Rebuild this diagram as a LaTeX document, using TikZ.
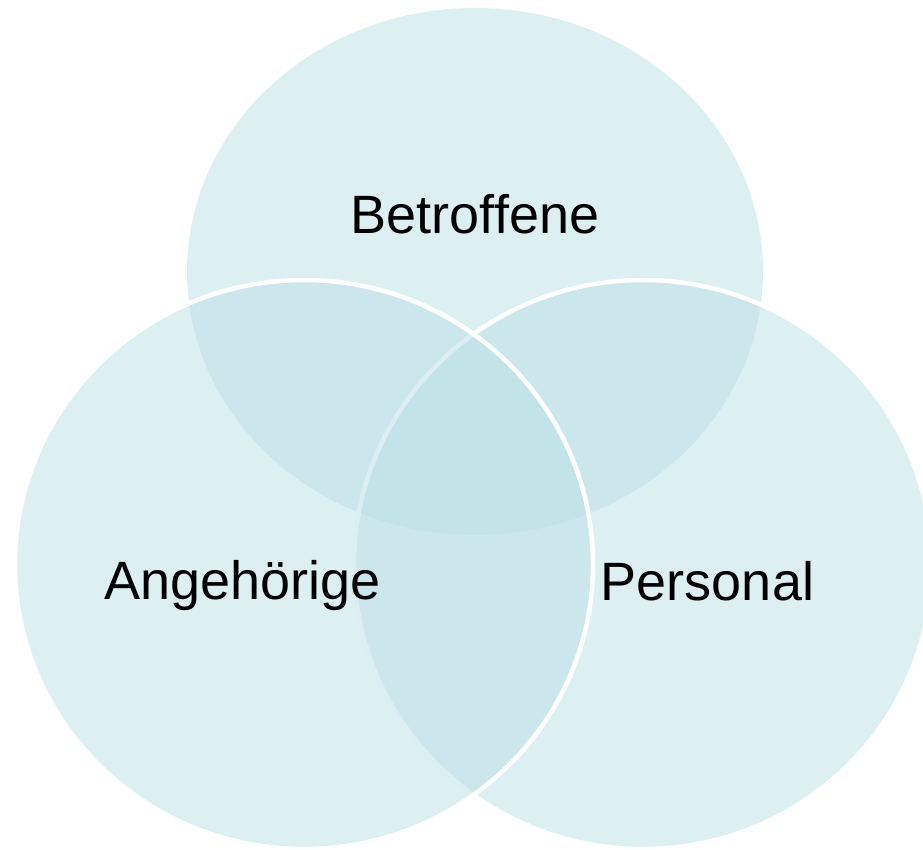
\documentclass[tikz,border=0pt]{standalone}
\usepackage{fontspec}
\setmainfont{Liberation Sans}
\usepackage{xcolor}
\usepackage{tikz}
\definecolor{venn}{RGB}{186,223,228}
\tikzset{
    set/.style={fill=venn, fill opacity=0.5},
    rim/.style={set, draw=white, draw opacity=1, line width=4.5pt},
    setlabel/.style={anchor=base, inner sep=0pt, font=\fontsize{54}{62}\selectfont}
}

\begin{document}
\begin{tikzpicture}[x=1pt, y=-1pt]
            \useasboundingbox (0, 0) rectangle (923, 849);
            \clip (0, 0) rectangle (923, 849);
            \fill[set] (475, 271.5) ellipse [x radius=288, y radius=263.5];
            \filldraw[rim] (643, 564.5) ellipse [x radius=289, y radius=284.5];
            \filldraw[rim] (304, 564.5) ellipse [x radius=289, y radius=284.5];
            \node[setlabel] at (475, 233) (betroffene) {Betroffene};
            \node[setlabel] at (242.5, 599) (angehoerige) {Angehörige};
            \node[setlabel] at (707.5, 600) (personal) {Personal};
    \end{tikzpicture}
\end{document}
